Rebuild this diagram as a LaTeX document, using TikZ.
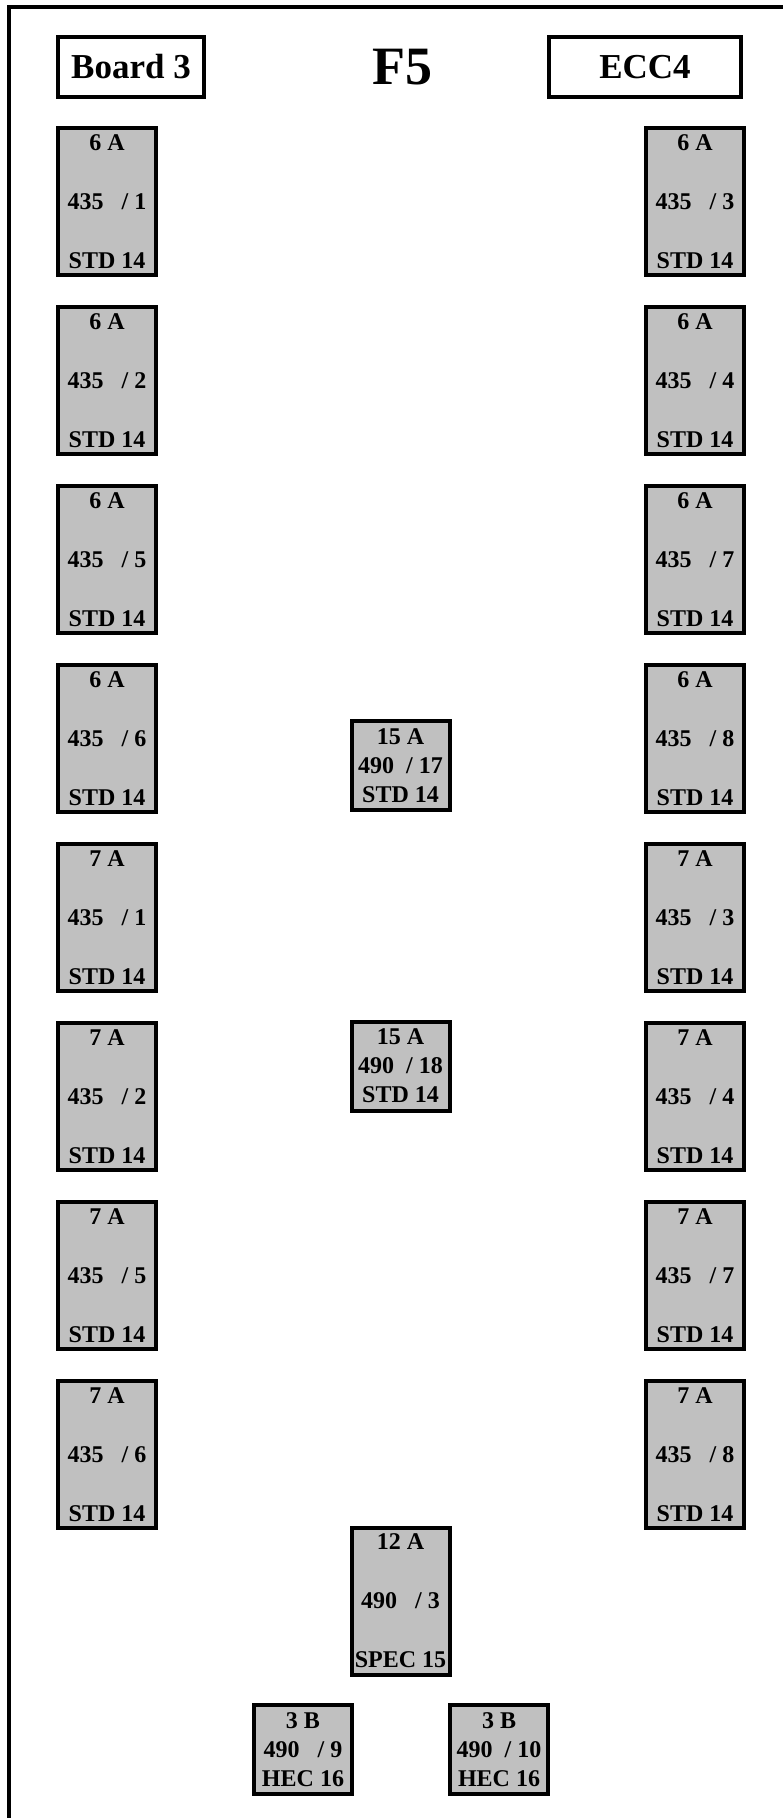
\documentclass[tikz,border=0pt]{standalone}
\usepackage{fontspec}
\setmainfont{Liberation Serif}
\usetikzlibrary{positioning}
\definecolor{fusegray}{RGB}{192,192,192}
\tikzset{
  fuse/.style={draw, line width=4pt, fill=fusegray, inner sep=0pt, align=center,
    minimum width=98pt, minimum height=147pt, font=\fontsize{24}{59}\selectfont\bfseries},
  fuseshort/.style={fuse, minimum height=89pt, font=\fontsize{24}{29}\selectfont\bfseries},
  tag/.style={draw, line width=4pt, minimum height=60pt, inner sep=0pt,
    font=\fontsize{35}{40}\selectfont\bfseries},
}

\begin{document}
\begin{tikzpicture}[x=1pt, y=-1pt]
\def\xL{107}
\def\xR{695}
\def\xC{400.5}
\useasboundingbox (0,0) rectangle (783,1818);
\coordinate (frameBL) at (8.7,1818);
\coordinate (frameTL) at (8.7,6.7);
\coordinate (frameTR) at (783,6.7);
\draw[line width=4pt] (frameBL) -- (frameTL) -- (frameTR);

% header
\node[tag, minimum width=146pt] (board) at (131,67) {Board 3};
\node[inner sep=0pt, font=\fontsize{54}{60}\selectfont\bfseries] (title) at (402,67) {F5};
\node[tag, minimum width=192pt] (ecc) at (645,67) {ECC4};

% left column
\node[fuse] (L1) at (\xL,201.5) {6 A\\435~~~/ 1\\STD 14};
\node[fuse] (L2) at (\xL,380.5) {6 A\\435~~~/ 2\\STD 14};
\node[fuse] (L3) at (\xL,559.5) {6 A\\435~~~/ 5\\STD 14};
\node[fuse] (L4) at (\xL,738.5) {6 A\\435~~~/ 6\\STD 14};
\node[fuse] (L5) at (\xL,917.5) {7 A\\435~~~/ 1\\STD 14};
\node[fuse] (L6) at (\xL,1096.5) {7 A\\435~~~/ 2\\STD 14};
\node[fuse] (L7) at (\xL,1275.5) {7 A\\435~~~/ 5\\STD 14};
\node[fuse] (L8) at (\xL,1454.5) {7 A\\435~~~/ 6\\STD 14};

% right column
\node[fuse] (R1) at (\xR,201.5) {6 A\\435~~~/ 3\\STD 14};
\node[fuse] (R2) at (\xR,380.5) {6 A\\435~~~/ 4\\STD 14};
\node[fuse] (R3) at (\xR,559.5) {6 A\\435~~~/ 7\\STD 14};
\node[fuse] (R4) at (\xR,738.5) {6 A\\435~~~/ 8\\STD 14};
\node[fuse] (R5) at (\xR,917.5) {7 A\\435~~~/ 3\\STD 14};
\node[fuse] (R6) at (\xR,1096.5) {7 A\\435~~~/ 4\\STD 14};
\node[fuse] (R7) at (\xR,1275.5) {7 A\\435~~~/ 7\\STD 14};
\node[fuse] (R8) at (\xR,1454.5) {7 A\\435~~~/ 8\\STD 14};

% middle
\node[fuseshort] (M17) at (\xC,765.5) {15 A\\490~~/ 17\\STD 14};
\node[fuseshort] (M18) at (\xC,1066) {15 A\\490~~/ 18\\STD 14};
\node[fuse] (M3) at (\xC,1601) {12 A\\490~~~/ 3\\SPEC 15};
\node[fuseshort] (H9) at (303,1749.5) {3 B\\490~~~/ 9\\HEC 16};
\node[fuseshort] (H10) at (499,1749.5) {3 B\\490~~/ 10\\HEC 16};
\end{tikzpicture}
\end{document}
